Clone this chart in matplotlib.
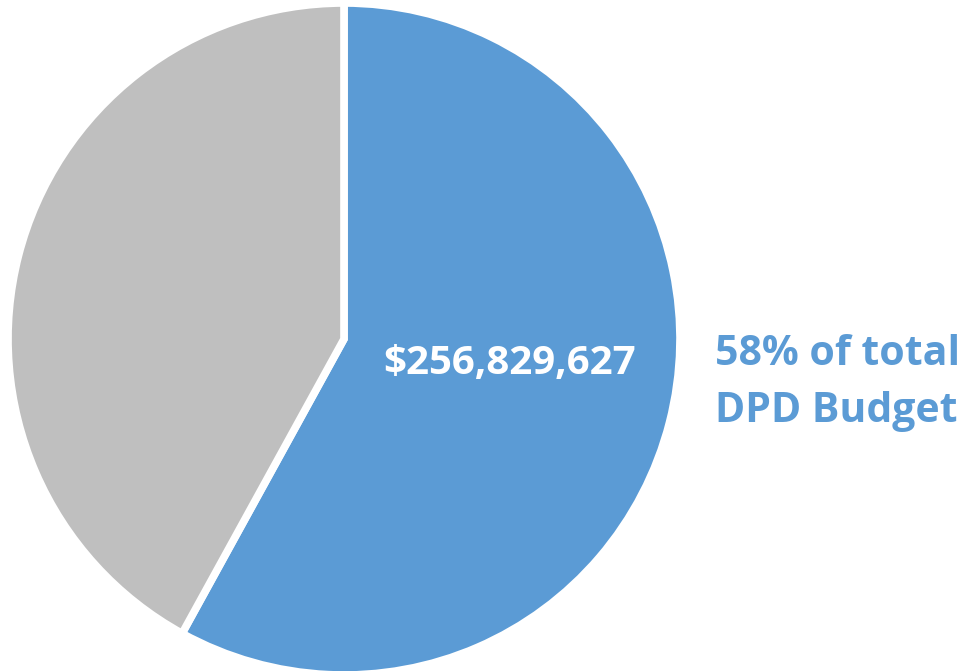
import matplotlib.pyplot as plt

# Data
labels = ['DPD share', 'Rest of budget']
shares = [58, 42]
colors = ['#5B9BD5', '#BFBFBF']
amount_label = '$256,829,627'
note_lines = ['58% of total', 'DPD Budget']

plt.rcParams['font.family'] = ['Open Sans', 'DejaVu Sans']

fig = plt.figure(figsize=(9.63, 6.71), dpi=100, facecolor='w')
ax = fig.add_axes([0, 0, 1, 1])

# pie in pixel-like coords (y up)
ax.pie(shares, colors=colors, startangle=90, counterclock=False,
       center=(344, 332), radius=336,
       wedgeprops=dict(edgecolor='white', linewidth=5.5))
ax.set_xlim(0, 963)
ax.set_ylim(0, 671)
ax.set_aspect('equal')
ax.axis('off')

ax.text(510, 297, amount_label, color='white', fontsize=29, fontweight='bold',
        ha='center', va='baseline')

ax.text(715, 306, note_lines[0], color='#5B9BD5', fontsize=29.5, fontweight='bold',
        ha='left', va='baseline')
ax.text(715, 249, note_lines[1], color='#5B9BD5', fontsize=29.5, fontweight='bold',
        ha='left', va='baseline')

fig.savefig('out.png', dpi=100, facecolor='w')
